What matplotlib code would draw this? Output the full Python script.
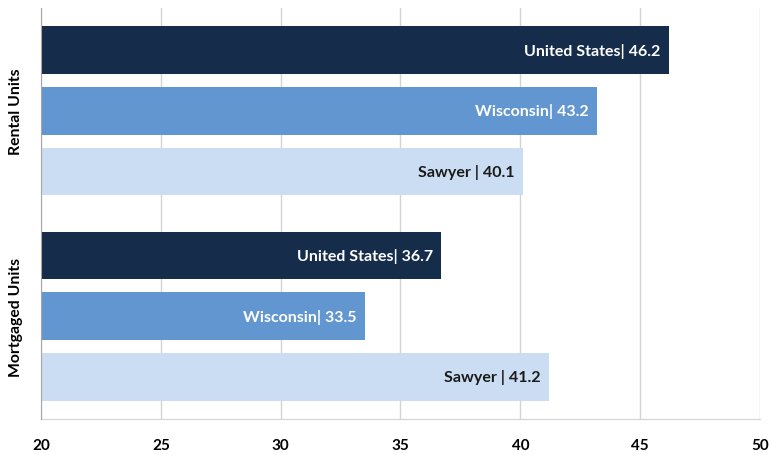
import matplotlib.pyplot as plt

# data
groups = ["Rental Units", "Mortgaged Units"]
places = ["United States", "Wisconsin", "Sawyer"]
label_prefix = ["United States|", "Wisconsin|", "Sawyer |"]
rental = [46.2, 43.2, 40.1]
mortgaged = [36.7, 33.5, 41.2]
x_ticks = [20, 25, 30, 35, 40, 45, 50]

colors = ["#152C4A", "#6196D0", "#CADDF2"]
text_colors = ["white", "white", "#1a1a1a"]

plt.rcParams['font.family'] = ['Lato', 'DejaVu Sans']

fig = plt.figure(figsize=(7.69, 4.56), dpi=100)
ax = fig.add_axes([0.0533, 0.0789, 0.935, 0.9014])

group_start = [0.70, 4.09]
bar_h = 0.79

for g, vals in enumerate([rental, mortgaged]):
    for i, v in enumerate(vals):
        y = group_start[g] + i
        ax.barh(y, v, height=bar_h, color=colors[i], edgecolor="none", zorder=3)
        ax.text(v - 0.35, y, f"{label_prefix[i]} {v}", ha="right", va="center",
                color=text_colors[i], fontsize=11.5, fontweight="bold", zorder=4)
    ax.text(-0.035, group_start[g] + 1, groups[g], transform=ax.get_yaxis_transform(),
            rotation=90, ha="center", va="center", fontsize=11.3, fontweight="bold")

ax.set_xlim(20, 50)
ax.set_ylim(6.79, 0)
ax.set_xticks(x_ticks)
ax.set_xticklabels([str(t) for t in x_ticks], fontweight="bold", fontsize=11)
ax.set_yticks([])
ax.tick_params(axis="x", length=0, pad=14)
ax.grid(axis="x", color="#D3D3D3", linewidth=1, zorder=0)

for s in ["top", "right"]:
    ax.spines[s].set_visible(False)
ax.spines["left"].set_color("#A6A6A6")
ax.spines["bottom"].set_color("#D3D3D3")
ax.spines["left"].set_zorder(5)

fig.savefig("out.png", dpi=100)
